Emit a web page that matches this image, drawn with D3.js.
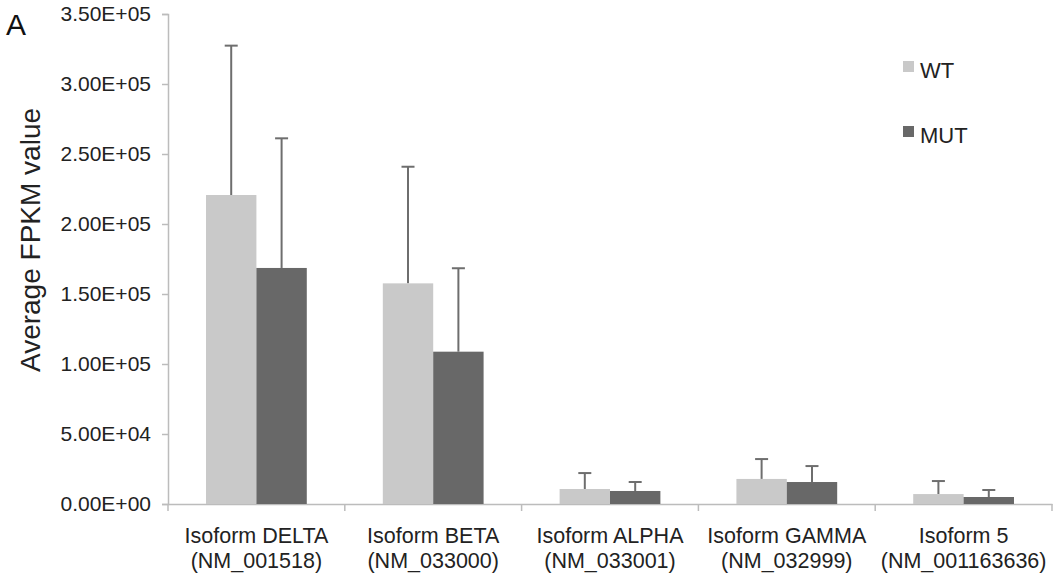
<!DOCTYPE html>
<html>
<head>
<meta charset="utf-8">
<script src="https://cdn.jsdelivr.net/npm/d3@7"></script>
<style>
  body { margin: 0; background: #fff; }
  svg { display: block; font-family: "Liberation Sans", Arial, sans-serif; }
</style>
</head>
<body>
<div id="chart"></div>
<script>
// data
const isoforms = ['Isoform DELTA', 'Isoform BETA', 'Isoform ALPHA', 'Isoform GAMMA', 'Isoform 5'];
const accessions = ['(NM_001518)', '(NM_033000)', '(NM_033001)', '(NM_032999)', '(NM_001163636)'];
const seriesNames = ['WT', 'MUT'];
const wtMean = [220700, 157600, 10700, 17900, 7100];
const wtErr = [106700, 83300, 11400, 14200, 9300];
const mutMean = [168600, 108800, 9300, 15700, 5000];
const mutErr = [92600, 59600, 6400, 11400, 5000];
const yTicks = [0, 50000, 100000, 150000, 200000, 250000, 300000, 350000];

const colors = { WT: '#c9c9c9', MUT: '#686868' };
const width = 1061;
const height = 582;
const margin = { top: 14, right: 9, bottom: 78, left: 168 };

const svg = d3.select('#chart').append('svg')
  .attr('width', width)
  .attr('height', height);

const x = d3.scaleBand()
  .domain(isoforms)
  .range([margin.left, width - margin.right])
  .padding(0);

const barW = x.bandwidth() * 0.285;
const xs = d3.scaleBand()
  .domain(seriesNames)
  .range([x.bandwidth() / 2 - barW, x.bandwidth() / 2 + barW]);

const y = d3.scaleLinear()
  .domain([0, 350000])
  .range([height - margin.bottom, margin.top]);

function sci(v) {
  // Excel style 3.50E+05
  const [m, e] = v.toExponential(2).split('e');
  const n = Math.abs(+e);
  return `${m}E${+e < 0 ? '-' : '+'}${n < 10 ? '0' : ''}${n}`;
}

// y axis
const yAxis = svg.append('g')
  .attr('transform', `translate(${margin.left},0)`)
  .call(d3.axisLeft(y).tickValues(yTicks).tickSize(6).tickPadding(11).tickFormat(sci));
yAxis.selectAll('line, path').attr('stroke', '#bcbcbc').attr('stroke-width', 1.5);
yAxis.selectAll('text')
  .attr('font-size', 21)
  .attr('fill', '#222')
  .attr('font-family', '"Liberation Sans", Arial, sans-serif');

// x axis
const xAxis = svg.append('g')
  .attr('transform', `translate(0,${y(0)})`)
  .call(d3.axisBottom(x).tickSize(0).tickFormat(''));
xAxis.select('path').attr('stroke', '#bcbcbc').attr('stroke-width', 1.5);
xAxis.selectAll('.tick').remove();
const edges = isoforms.map(d => x(d)).concat([x.range()[1]]);
xAxis.selectAll('line.edge')
  .data(edges)
  .enter().append('line')
  .attr('class', 'edge')
  .attr('x1', d => d)
  .attr('x2', d => d)
  .attr('y1', 0)
  .attr('y2', 7)
  .attr('stroke', '#bcbcbc')
  .attr('stroke-width', 1.5);

// category labels, two lines
const labels = svg.append('g')
  .attr('font-size', 21.5)
  .attr('fill', '#222')
  .attr('text-anchor', 'middle');
isoforms.forEach((d, i) => {
  const cx = x(d) + x.bandwidth() / 2;
  labels.append('text').attr('x', cx).attr('y', 543).text(d);
  labels.append('text').attr('x', cx).attr('y', 568).text(accessions[i]);
});

// bars + error bars
const rows = isoforms.map((d, i) => ({
  iso: d,
  vals: [
    { s: 'WT', v: wtMean[i], e: wtErr[i] },
    { s: 'MUT', v: mutMean[i], e: mutErr[i] },
  ],
}));

const groups = svg.append('g').selectAll('g')
  .data(rows)
  .enter().append('g')
  .attr('transform', d => `translate(${x(d.iso)},0)`);

groups.selectAll('line.err')
  .data(d => d.vals)
  .enter().append('line')
  .attr('class', 'err')
  .attr('x1', d => xs(d.s) + xs.bandwidth() / 2)
  .attr('x2', d => xs(d.s) + xs.bandwidth() / 2)
  .attr('y1', d => y(d.v))
  .attr('y2', d => y(d.v + d.e))
  .attr('stroke', '#6e6e6e')
  .attr('stroke-width', 2);

groups.selectAll('line.cap')
  .data(d => d.vals)
  .enter().append('line')
  .attr('class', 'cap')
  .attr('x1', d => xs(d.s) + xs.bandwidth() / 2 - 6.5)
  .attr('x2', d => xs(d.s) + xs.bandwidth() / 2 + 6.5)
  .attr('y1', d => y(d.v + d.e))
  .attr('y2', d => y(d.v + d.e))
  .attr('stroke', '#6e6e6e')
  .attr('stroke-width', 2);

groups.selectAll('rect')
  .data(d => d.vals)
  .enter().append('rect')
  .attr('x', d => xs(d.s))
  .attr('width', xs.bandwidth())
  .attr('y', d => y(d.v))
  .attr('height', d => y(0) - y(d.v))
  .attr('fill', d => colors[d.s]);

// legend
const legend = svg.append('g');
seriesNames.forEach((s, i) => {
  const ly = 61 + i * 65;
  legend.append('rect')
    .attr('x', 903).attr('y', ly)
    .attr('width', 11).attr('height', 11)
    .attr('fill', colors[s]);
  legend.append('text')
    .attr('x', 920).attr('y', ly + 17)
    .attr('font-size', 22)
    .attr('fill', '#222')
    .text(s);
});

// y title
svg.append('text')
  .attr('transform', 'translate(40,240) rotate(-90)')
  .attr('text-anchor', 'middle')
  .attr('font-size', 28)
  .attr('fill', '#222')
  .text('Average FPKM value');

// panel letter
svg.append('text')
  .attr('x', 6)
  .attr('y', 35)
  .attr('font-size', 30)
  .attr('fill', '#111')
  .text('A');
</script>
</body>
</html>
